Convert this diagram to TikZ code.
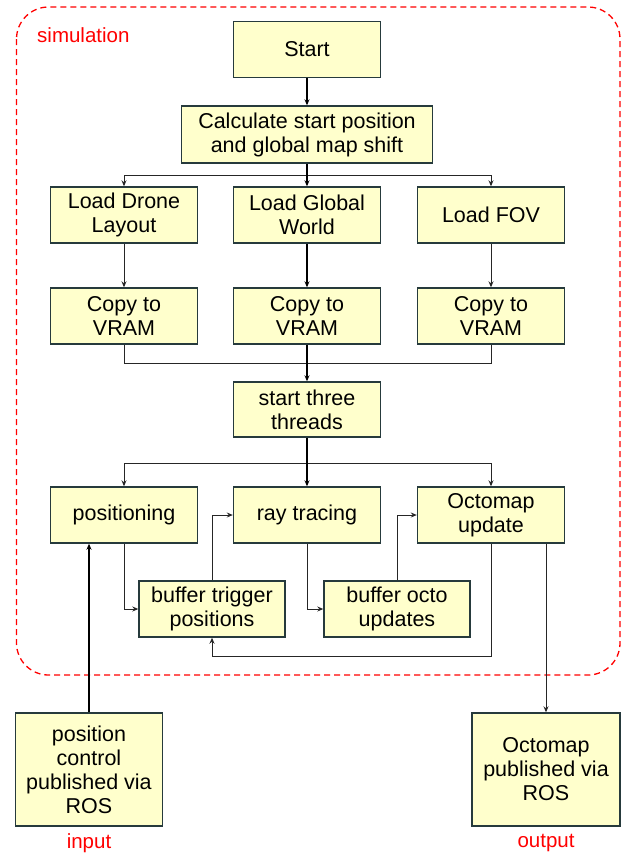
\documentclass[tikz,border=0pt]{standalone}
\usepackage{fontspec}
\setmainfont{Liberation Sans}
\usetikzlibrary{arrows.meta}
\definecolor{boxfill}{RGB}{255,255,204}
\definecolor{boxdraw}{RGB}{38,58,60}
\definecolor{simred}{RGB}{255,0,0}
\begin{document}
\begin{tikzpicture}[x=1pt,y=-1pt,
  box/.style={draw=boxdraw,fill=boxfill,line width=1.4pt,minimum width=147pt,minimum height=56pt,
    align=center,inner sep=2pt,font=\fontsize{21.5}{24}\selectfont},
  thinln/.style={line width=1pt,draw=black!85},
  thickln/.style={line width=2pt,draw=black},
  arr/.style={-{Stealth[length=6pt,width=5pt]}},
  redlbl/.style={text=simred,font=\fontsize{20.5}{24}\selectfont,inner sep=0pt}
]
\useasboundingbox (0,0) rectangle (623,855);
% simulation frame
\draw[simred,line width=1.3pt,dash pattern=on 6pt off 4pt,rounded corners=32pt] (16.5,7) rectangle (620,675);
\node[redlbl,anchor=west] (simlbl) at (37,35) {simulation};

\node[box] (start) at (307,49.5) {Start};
\node[box,minimum width=251pt,minimum height=57pt] (calc) at (307,134.5) {Calculate start position\\and global map shift};

\node[box] (load1) at (124,215) {Load Drone\\Layout};
\node[box] (load2) at (307,215) {Load Global\\World};
\node[box] (load3) at (491,215) {Load FOV};

\node[box] (copy1) at (124,316) {Copy to\\VRAM};
\node[box] (copy2) at (307,316) {Copy to\\VRAM};
\node[box] (copy3) at (491,316) {Copy to\\VRAM};

\node[box,minimum height=55pt] (threads) at (307,409.5) {start three\\threads};

\node[box] (pos) at (124,515) {positioning};
\node[box] (ray) at (307,515) {ray tracing};
\node[box] (oct) at (491,515) {Octomap\\update};

\node[box,minimum width=146pt] (bt) at (212,609) {buffer trigger\\positions};
\node[box,minimum width=146pt] (bo) at (397,609) {buffer octo\\updates};

\node[box,minimum height=113pt] (inp) at (89,769.5) {position\\control\\published via\\ROS};
\node[box,minimum width=148pt,minimum height=113pt] (out) at (546,769.5) {Octomap\\published via\\ROS};

\node[redlbl] (inlbl) at (89,843) {input};
\node[redlbl] (outlbl) at (546,843) {output};

% connectors
\coordinate (b1) at (307,175);
\coordinate (m1) at (307,363);
\coordinate (b2) at (307,463);
\coordinate (c1) at (491,656);

\draw[thickln,arr] (start) -- (calc);
\draw[thickln] (calc.south -| b1) -- (b1);
\draw[thinln,arr] (b1) -| (load1.north);
\draw[thinln,arr] (b1) -| (load3.north);
\draw[thickln,arr] (b1) -- (load2.north);

\draw[thinln,arr] (load1) -- (copy1);
\draw[thickln,arr] (load2) -- (copy2);
\draw[thinln,arr] (load3) -- (copy3);

\draw[thinln] (copy1.south) |- (m1);
\draw[thinln] (copy3.south) |- (m1);
\draw[thickln,arr] (copy2) -- (threads);

\draw[thickln] (threads.south) -- (b2);
\draw[thinln,arr] (b2) -| (pos.north);
\draw[thinln,arr] (b2) -| (oct.north);
\draw[thickln,arr] (b2) -- (ray.north);

\draw[thinln,arr] (pos.south) |- (bt.west);
\draw[thinln,arr] (bt.north) |- (ray.west);
\draw[thinln,arr] (ray.south) |- (bo.west);
\draw[thinln,arr] (bo.north) |- (oct.west);
\draw[thinln,arr] (oct.south) -- (c1) -| (bt.south);

\draw[thinln,arr] (out.north |- oct.south) -- (out.north);
\draw[thickln,arr] (inp.north) -- (inp.north |- pos.south);
\end{tikzpicture}
\end{document}
